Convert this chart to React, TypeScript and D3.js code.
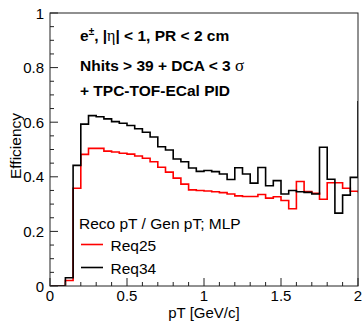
import * as d3 from 'd3';

// bin lower edges run 0, 0.05, ... ; last bin sits just past the axis end and gets clipped
const binWidth = 0.05;

const req25 = [
  0, 0, 0.02, 0.358, 0.482, 0.504, 0.504, 0.494, 0.491, 0.486,
  0.483, 0.476, 0.468, 0.455, 0.435, 0.417, 0.395, 0.373, 0.352, 0.35,
  0.348, 0.345, 0.342, 0.337, 0.33, 0.328, 0.328, 0.335, 0.322, 0.327,
  0.313, 0.283, 0.383, 0.346, 0.34, 0.318, 0.378, 0.378, 0.358, 0.347,
  0.345,
];

const req34 = [
  0, 0, 0.03, 0.442, 0.593, 0.624, 0.62, 0.612, 0.602, 0.596,
  0.588, 0.576, 0.563, 0.546, 0.51, 0.498, 0.465, 0.455, 0.432, 0.42,
  0.423, 0.419, 0.41, 0.39, 0.433, 0.41, 0.377, 0.434, 0.367, 0.386,
  0.337, 0.35, 0.345, 0.343, 0.337, 0.508, 0.391, 0.267, 0.333, 0.398,
  0.675,
];

const xMajor = [0, 0.5, 1, 1.5, 2];
const xMajorLabels = ['0', '0.5', '1', '1.5', '2'];
const yMajor = [0, 0.2, 0.4, 0.6, 0.8, 1];
const yMajorLabels = ['0', '0.2', '0.4', '0.6', '0.8', '1'];

const legendTitle = 'Reco pT / Gen pT; MLP';
const seriesNames = ['Req25', 'Req34'];
const seriesColors = ['#ff0000', '#000000'];

const W = 363;
const H = 321;
const FONT = '"Liberation Sans", Arial, Helvetica, sans-serif';
const SYM = '"Liberation Serif", "DejaVu Serif", serif';

export default function App() {
  const left = 50, right = 358, top = 13, bottom = 286;

  const x = d3.scaleLinear().domain([0, 2]).range([left, right]);
  const y = d3.scaleLinear().domain([0, 1]).range([bottom, top]);

  const stepLine = d3.line<[number, number]>()
    .x(d => x(d[0]))
    .y(d => y(d[1]))
    .curve(d3.curveStepAfter);

  // ROOT-like histogram outline: step over each bin
  const histPath = (vals: number[]) => {
    const pts: [number, number][] = vals.map((v, i) => [i * binWidth, v]);
    pts.push([vals.length * binWidth, vals[vals.length - 1]]);
    return stepLine(pts);
  };

  const xMinor = d3.range(0, 2.0001, 0.1).filter(v => !xMajor.some(m => Math.abs(m - v) < 1e-6));
  const yMinor = d3.range(0, 1.0001, 0.05).filter(v => !yMajor.some(m => Math.abs(m - v) < 1e-6));

  const series = [req25, req34];

  return (
    <svg width={W} height={H} style={{ position: 'absolute', left: 0, top: 0, background: '#fff' }}
      fontFamily={FONT}>
      <defs>
        <clipPath id="frame-clip">
          <rect x={left} y={top} width={right - left} height={bottom - top} />
        </clipPath>
      </defs>

      {/* histograms */}
      <g clipPath="url(#frame-clip)" fill="none" strokeWidth={1.6}>
        {series.map((s, i) => (
          <path key={seriesNames[i]} d={histPath(s) || ''} stroke={seriesColors[i]} />
        ))}
      </g>

      {/* frame */}
      <rect x={left} y={top} width={right - left} height={bottom - top}
        fill="none" stroke="#222" strokeWidth={1} />

      {/* ticks */}
      <g stroke="#222" strokeWidth={1}>
        {yMajor.map(v => (
          <line key={'ym' + v} x1={left} x2={left + 8} y1={y(v)} y2={y(v)} />
        ))}
        {yMinor.map(v => (
          <line key={'yn' + v} x1={left} x2={left + 4} y1={y(v)} y2={y(v)} />
        ))}
        {xMajor.map(v => (
          <line key={'xm' + v} x1={x(v)} x2={x(v)} y1={bottom} y2={bottom - 8} />
        ))}
        {xMinor.map(v => (
          <line key={'xn' + v} x1={x(v)} x2={x(v)} y1={bottom} y2={bottom - 4} />
        ))}
      </g>

      {/* tick labels */}
      <g fontSize={15} fill="#000">
        {yMajor.map((v, i) => (
          <text key={'yl' + v} x={left - 6} y={y(v) + 5.5} textAnchor="end">{yMajorLabels[i]}</text>
        ))}
        {xMajor.map((v, i) => (
          <text key={'xl' + v} x={x(v)} y={301} textAnchor="middle">{xMajorLabels[i]}</text>
        ))}
      </g>

      {/* axis titles */}
      <text x={(left + right) / 2} y={318} textAnchor="middle" fontSize={15}>pT [GeV/c]</text>
      <text transform={`translate(21, 146) rotate(-90)`} textAnchor="middle" fontSize={15.5}>
        Efficiency
      </text>

      {/* header text */}
      <g fontSize={15.5} fontWeight="bold">
        <text x={80} y={40.5}>
          e<tspan fontSize={10} dy={-6}>±</tspan>
          <tspan dy={6}>, |</tspan>
          <tspan fontFamily={SYM} fontWeight="normal" fontSize={16}>η</tspan>
          <tspan>| &lt; 1, PR &lt; 2 cm</tspan>
        </text>
        <text x={80} y={70.5}>
          Nhits &gt; 39 + DCA &lt; 3 <tspan fontFamily={SYM} fontWeight="normal" fontSize={17}>σ</tspan>
        </text>
        <text x={80} y={96}>+ TPC-TOF-ECal PID</text>
      </g>

      {/* legend */}
      <g fontSize={15.5}>
        <text x={79} y={229}>{legendTitle}</text>
        {seriesNames.map((name, i) => (
          <g key={name}>
            <line x1={81} x2={103} y1={244.5 + i * 23} y2={244.5 + i * 23}
              stroke={seriesColors[i]} strokeWidth={1.6} />
            <text x={110.5} y={251 + i * 22.5}>{name}</text>
          </g>
        ))}
      </g>
    </svg>
  );
}
